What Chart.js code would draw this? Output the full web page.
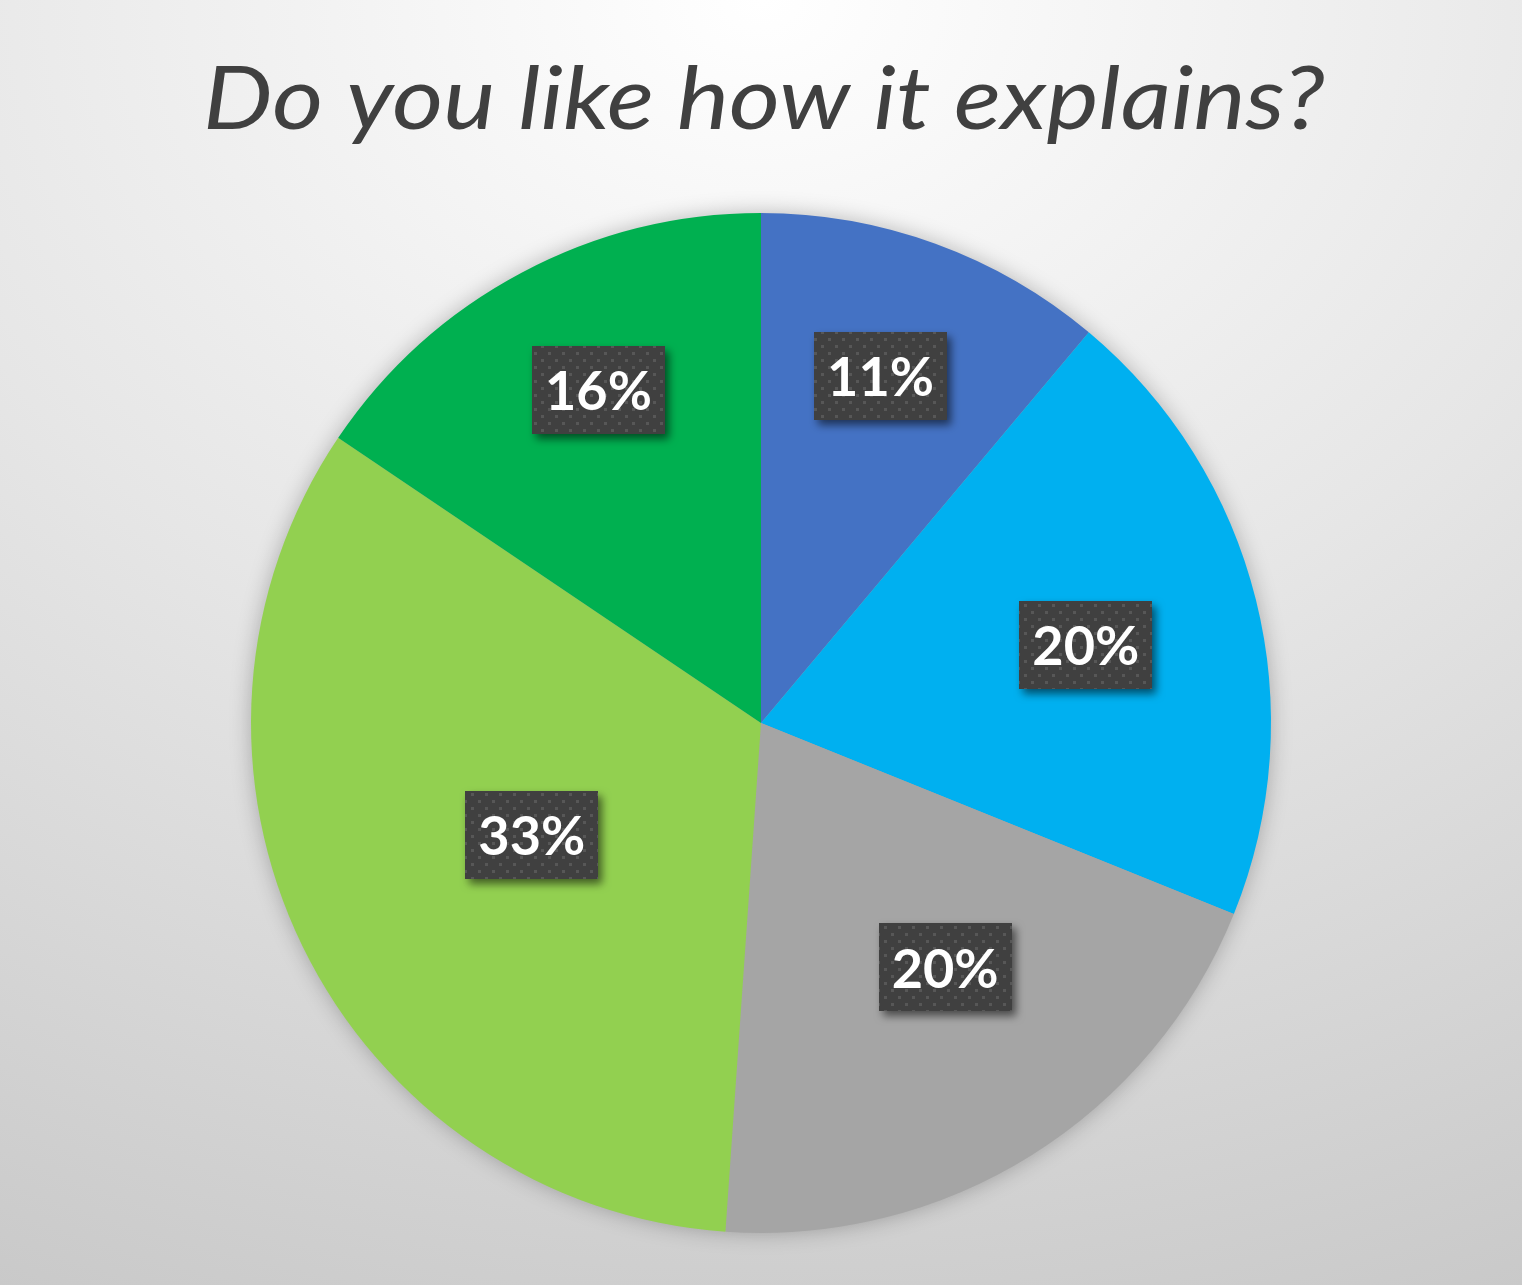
<!DOCTYPE html>
<html>
<head>
<meta charset="utf-8">
<script src="https://cdn.jsdelivr.net/npm/chart.js@4"></script>
<style>
  html, body { margin: 0; padding: 0; }
  body {
    width: 1522px; height: 1285px; overflow: hidden;
    background: radial-gradient(ellipse 130% 120% at 50% 0%, #ffffff 0%, #e6e6e6 45%, #c4c4c4 100%);
  }
  #wrap { position: absolute; left: 0; top: 0; width: 1522px; height: 1285px; }
</style>
</head>
<body>
<div id="wrap"><canvas id="c" width="1522" height="1285"></canvas></div>
<script>
const titleText = "Do you like how it explains?";
const categories = ["A", "B", "C", "D", "E"];
const counts = [5, 9, 9, 15, 7];
const colors = ["#4472C4", "#00B0F0", "#A5A5A5", "#92D050", "#00B050"];
const labelRadius = [0.72, 0.655, 0.60, 0.50, 0.727];
const labelAngleShift = [-1, 0.5, -5, 0, 2];

const total = counts.reduce((a, b) => a + b, 0);
const labelsText = counts.map(v => Math.round(v / total * 100) + "%");

function makePattern(ctx) {
  const p = document.createElement('canvas');
  p.width = 14; p.height = 14;
  const g = p.getContext('2d');
  g.fillStyle = '#404040';
  g.fillRect(0, 0, 14, 14);
  g.fillStyle = '#575757';
  g.fillRect(2, 2, 3, 3);
  g.fillRect(9, 9, 3, 3);
  return ctx.createPattern(p, 'repeat');
}

const shadowPlugin = {
  id: 'pieShadow',
  beforeDatasetsDraw(chart) {
    const meta = chart.getDatasetMeta(0);
    if (!meta.data.length) return;
    const arc = meta.data[0];
    const ctx = chart.ctx;
    ctx.save();
    ctx.shadowColor = 'rgba(0,0,0,0.28)';
    ctx.shadowBlur = 22;
    ctx.fillStyle = '#a5a5a5';
    ctx.beginPath();
    ctx.arc(arc.x, arc.y, arc.outerRadius - 1, 0, Math.PI * 2);
    ctx.fill();
    ctx.restore();
  }
};

const labelPlugin = {
  id: 'boxLabels',
  afterDatasetsDraw(chart) {
    const ctx = chart.ctx;
    const meta = chart.getDatasetMeta(0);
    const pattern = makePattern(ctx);
    ctx.save();
    ctx.font = 'bold 54px Lato, "Open Sans", sans-serif';
    ctx.textAlign = 'center';
    ctx.textBaseline = 'middle';
    meta.data.forEach((arc, i) => {
      const mid = (arc.startAngle + arc.endAngle) / 2 + labelAngleShift[i] * Math.PI / 180;
      const r = arc.outerRadius * labelRadius[i];
      const x = arc.x + Math.cos(mid) * r;
      const y = arc.y + Math.sin(mid) * r;
      const w = 133, h = 88;
      ctx.save();
      ctx.shadowColor = 'rgba(0,0,0,0.55)';
      ctx.shadowBlur = 9;
      ctx.shadowOffsetX = 4;
      ctx.shadowOffsetY = 5;
      ctx.fillStyle = pattern;
      ctx.fillRect(Math.round(x - w / 2), Math.round(y - h / 2), w, h);
      ctx.restore();
      ctx.fillStyle = '#ffffff';
      ctx.fillText(labelsText[i], x, y + 3);
    });
    ctx.restore();
  }
};

const titlePlugin = {
  id: 'customTitle',
  afterDraw(chart) {
    const ctx = chart.ctx;
    ctx.save();
    ctx.font = 'italic 400 88px Lato, "Open Sans", sans-serif';
    ctx.fillStyle = '#404040';
    ctx.textAlign = 'center';
    ctx.textBaseline = 'alphabetic';
    const w = ctx.measureText(titleText).width;
    const sx = 1122 / w;
    ctx.translate(764, 129);
    ctx.scale(sx, 1);
    ctx.fillText(titleText, 0, 0);
    ctx.restore();
  }
};

new Chart(document.getElementById('c'), {
  type: 'pie',
  data: {
    labels: categories,
    datasets: [{
      data: counts,
      backgroundColor: colors,
      borderWidth: 0
    }]
  },
  options: {
    responsive: false,
    animation: false,
    layout: { padding: { left: 251, right: 251, top: 213, bottom: 52 } },
    plugins: {
      legend: { display: false },
      title: { display: false },
      tooltip: { enabled: false }
    }
  },
  plugins: [shadowPlugin, labelPlugin, titlePlugin]
});
</script>
</body>
</html>
